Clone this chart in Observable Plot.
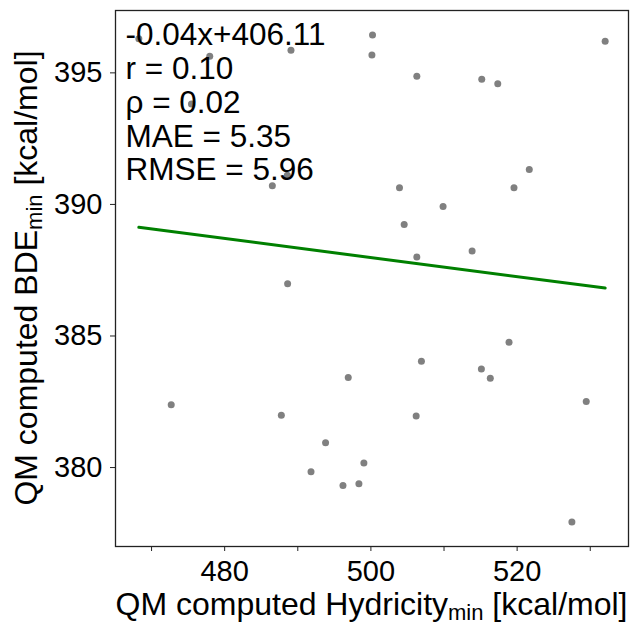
<!DOCTYPE html>
<html><head><meta charset="utf-8">
<script src="https://cdn.jsdelivr.net/npm/d3@7"></script>
<script src="https://cdn.jsdelivr.net/npm/@observablehq/plot@0.6"></script>
<style>
body{margin:0;background:#fff}
svg{font-family:"Liberation Sans",Arial,Helvetica,sans-serif}
</style>
</head><body><div id="chart"></div>
<script>
// QM computed Hydricity_min [kcal/mol]
const hydricity = [468.26, 477.96, 489.07, 475.46, 488.57, 486.52, 500.22, 500.14, 506.28, 515.16,
  517.35, 532.04, 521.66, 519.57, 503.91, 509.87, 504.55, 513.84, 506.28, 488.61,
  496.90, 472.69, 487.75, 493.80, 499.04, 491.81, 496.18, 498.36, 518.89, 506.91,
  515.11, 516.33, 529.45, 506.19, 527.49];
// QM computed BDE_min [kcal/mol]
const bde = [396.30, 395.63, 395.86, 393.82, 391.11, 390.71, 396.44, 395.68, 394.87, 394.76,
  394.59, 396.20, 391.33, 390.63, 390.63, 389.92, 389.24, 388.23, 388.00, 386.99,
  383.42, 382.39, 381.99, 380.94, 380.17, 379.84, 379.32, 379.38, 384.76, 384.04,
  383.75, 383.39, 382.51, 381.96, 377.93];
// linear fit endpoints
const fitX = [468.26, 532.04];
const fitY = [389.13, 386.82];
const statLines = ["-0.04x+406.11", "r = 0.10", "ρ = 0.02", "MAE = 5.35", "RMSE = 5.96"];
const xTicks = [470, 480, 490, 500, 510, 520, 530];
const xTickLabels = ["", "480", "", "500", "", "520", ""];
const yTicks = [380, 385, 390, 395];
const yTickLabels = ["380", "385", "390", "395"];
const xDomain = [465.07, 535.23];
const yDomain = [377.0, 397.37];

const points = hydricity.map((x, i) => ({x, y: bde[i]}));
const fit = fitX.map((x, i) => ({x, y: fitY[i]}));

const W = 631, H = 623, mL = 115, mR = 3, mT = 10, mB = 77;
const plot = Plot.plot({
  width: W, height: H,
  marginLeft: mL, marginRight: mR, marginTop: mT, marginBottom: mB,
  style: {fontFamily: '"Liberation Sans", Arial, Helvetica, sans-serif', fontSize: "29px", background: "white", color: "black"},
  x: {domain: xDomain},
  y: {domain: yDomain},
  marks: [
    Plot.dot(points, {x: "x", y: "y", r: 3.5, fill: "#808080"}),
    Plot.line(fit, {x: "x", y: "y", stroke: "#008000", strokeWidth: 3}),
    Plot.text([statLines.join("\n")], {text: d => d, frameAnchor: "top-left", dx: 10, dy: 11, lineAnchor: "top", lineHeight: 1.07, fontSize: 31.5, fill: "black", textAnchor: "start"}),
    Plot.axisX({ticks: xTicks, tickFormat: d => xTickLabels[xTicks.indexOf(d)], tickSize: 5, tickPadding: 9, fontSize: 29, label: null, stroke: "#222"}),
    Plot.axisY({ticks: yTicks, tickFormat: d => yTickLabels[yTicks.indexOf(d)], tickSize: 5, tickPadding: 8, fontSize: 29, label: null, stroke: "#222"}),
    Plot.frame({stroke: "#222", strokeWidth: 1.3})
  ]
});
document.getElementById("chart").appendChild(plot);

const svg = d3.select(plot);
const cx = mL + (W - mL - mR) / 2;
const cy = mT + (H - mT - mB) / 2;
function label(g, main, sub, rest) {
  const t = g.append("text").attr("text-anchor", "middle").attr("font-size", 32).attr("fill", "black");
  t.append("tspan").text(main);
  t.append("tspan").attr("font-size", 22).attr("dy", 5).text(sub);
  t.append("tspan").attr("dy", -5).text(rest);
  return t;
}
const gx = svg.append("g").attr("transform", `translate(${cx},615)`);
label(gx, "QM computed Hydricity", "min", " [kcal/mol]");
const gy = svg.append("g").attr("transform", `translate(37,${cy}) rotate(-90)`);
label(gy, "QM computed BDE", "min", " [kcal/mol]");
</script>
</body></html>
